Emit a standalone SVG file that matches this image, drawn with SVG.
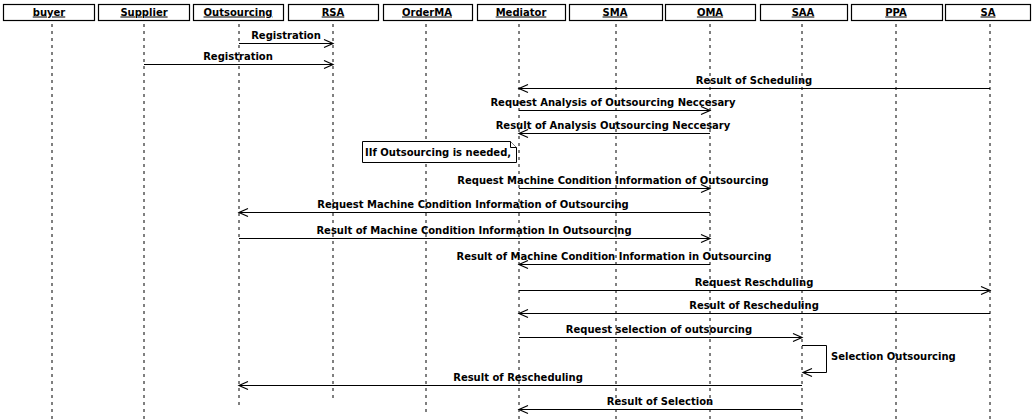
<svg xmlns="http://www.w3.org/2000/svg" width="1032" height="419" viewBox="0 0 1032 419">
<style>
.box{fill:#fff;stroke:#000;stroke-width:1.2}
.hdr{font-family:"DejaVu Sans",sans-serif;font-size:10px;font-weight:bold;text-decoration:underline;text-anchor:middle;fill:#000}
.life{stroke:#000;stroke-width:1;stroke-dasharray:3 4;fill:none}
.msg{stroke:#000;stroke-width:1;fill:none;marker-end:url(#arr)}
.lbl{font-family:"DejaVu Sans",sans-serif;font-size:10px;font-weight:bold;text-anchor:middle;fill:#000}
.note{fill:#fff;stroke:#000;stroke-width:1}
.ntxt{font-family:"DejaVu Sans",sans-serif;font-size:10px;font-weight:bold;fill:#000}
</style>
<defs>
<marker id="arr" markerUnits="userSpaceOnUse" markerWidth="12" markerHeight="10" refX="9" refY="4" orient="auto" overflow="visible">
<path d="M0,0 L9,4 L0,8" fill="none" stroke="#000" stroke-width="1.2"/>
</marker>
</defs>
<rect width="1032" height="419" fill="#fff"/>
<g id="buyer"><line class="life" x1="52" y1="24" x2="52" y2="419"/><rect class="box" x="3.5" y="4.5" width="91" height="16"/><text class="hdr" x="49" y="15.5">buyer</text></g>
<g id="supplier"><line class="life" x1="144" y1="24" x2="144" y2="419"/><rect class="box" x="98.5" y="4.5" width="91" height="16"/><text class="hdr" x="144" y="15.5">Supplier</text></g>
<g id="outsourcing"><line class="life" x1="239" y1="24" x2="239" y2="406"/><rect class="box" x="193.5" y="4.5" width="90" height="16"/><text class="hdr" x="238" y="15.5">Outsourcing</text></g>
<g id="rsa"><line class="life" x1="333" y1="24" x2="333" y2="401"/><rect class="box" x="288.5" y="4.5" width="90" height="16"/><text class="hdr" x="333" y="15.5">RSA</text></g>
<g id="orderma"><line class="life" x1="426" y1="24" x2="426" y2="416"/><rect class="box" x="383.5" y="4.5" width="89" height="16"/><text class="hdr" x="427" y="15.5">OrderMA</text></g>
<g id="mediator"><line class="life" x1="519" y1="24" x2="519" y2="419"/><rect class="box" x="477.5" y="4.5" width="88" height="16"/><text class="hdr" x="521" y="15.5">Mediator</text></g>
<g id="sma"><line class="life" x1="616" y1="24" x2="616" y2="419"/><rect class="box" x="569.5" y="4.5" width="93" height="16"/><text class="hdr" x="615" y="15.5">SMA</text></g>
<g id="oma"><line class="life" x1="710" y1="24" x2="710" y2="419"/><rect class="box" x="665.5" y="4.5" width="90" height="16"/><text class="hdr" x="710" y="15.5">OMA</text></g>
<g id="saa"><line class="life" x1="802" y1="24" x2="802" y2="419"/><rect class="box" x="760.5" y="4.5" width="87" height="16"/><text class="hdr" x="803" y="15.5">SAA</text></g>
<g id="ppa"><line class="life" x1="896" y1="24" x2="896" y2="419"/><rect class="box" x="851.5" y="4.5" width="91" height="16"/><text class="hdr" x="896" y="15.5">PPA</text></g>
<g id="sa"><line class="life" x1="990" y1="24" x2="990" y2="419"/><rect class="box" x="945.5" y="4.5" width="85" height="16"/><text class="hdr" x="988" y="15.5">SA</text></g>
<g id="note1"><path class="note" d="M362.5,141.5 H510.5 L516.5,147.5 V162.5 H362.5 Z"/><path class="note" d="M510.5,141.5 V147.5 H516.5"/><text class="ntxt" x="365" y="155.5">IIf Outsourcing is needed,</text></g>
<g id="connectors">
<line class="msg" x1="239" y1="43.5" x2="333" y2="43.5"/>
<line class="msg" x1="144" y1="64.5" x2="333" y2="64.5"/>
<line class="msg" x1="990" y1="88.5" x2="519" y2="88.5"/>
<line class="msg" x1="519" y1="110.5" x2="710" y2="110.5"/>
<line class="msg" x1="710" y1="133.5" x2="519" y2="133.5"/>
<line class="msg" x1="519" y1="188.5" x2="710" y2="188.5"/>
<line class="msg" x1="710" y1="212.5" x2="239" y2="212.5"/>
<line class="msg" x1="239" y1="238.5" x2="710" y2="238.5"/>
<line class="msg" x1="710" y1="264.5" x2="519" y2="264.5"/>
<line class="msg" x1="519" y1="290.5" x2="990" y2="290.5"/>
<line class="msg" x1="990" y1="313.5" x2="519" y2="313.5"/>
<line class="msg" x1="519" y1="337.5" x2="802" y2="337.5"/>
<path class="msg" d="M802,345.5 H826.5 V372.5 H803"/>
<line class="msg" x1="802" y1="385.5" x2="239" y2="385.5"/>
<line class="msg" x1="802" y1="409.5" x2="519" y2="409.5"/>
</g>
<g id="labels">
<text class="lbl" x="286" y="39">Registration</text>
<text class="lbl" x="238" y="60">Registration</text>
<text class="lbl" x="754" y="84">Result of Scheduling</text>
<text class="lbl" x="613" y="106">Request Analysis of Outsourcing Neccesary</text>
<text class="lbl" x="613" y="129">Result of Analysis Outsourcing Neccesary</text>
<text class="lbl" x="613" y="184">Request Machine Condition Information of Outsourcing</text>
<text class="lbl" x="473" y="208">Request Machine Condition Information of Outsourcing</text>
<text class="lbl" x="474" y="234">Result of Machine Condition Information In Outsourcing</text>
<text class="lbl" x="614" y="260">Result of Machine Condition Information in Outsourcing</text>
<text class="lbl" x="754" y="286">Request Reschduling</text>
<text class="lbl" x="754" y="309">Result of Rescheduling</text>
<text class="lbl" x="659" y="333">Request selection of outsourcing</text>
<text class="ntxt" x="831" y="360">Selection Outsourcing</text>
<text class="lbl" x="518" y="381">Result of Rescheduling</text>
<text class="lbl" x="660" y="405">Result of Selection</text>
</g>
</svg>
